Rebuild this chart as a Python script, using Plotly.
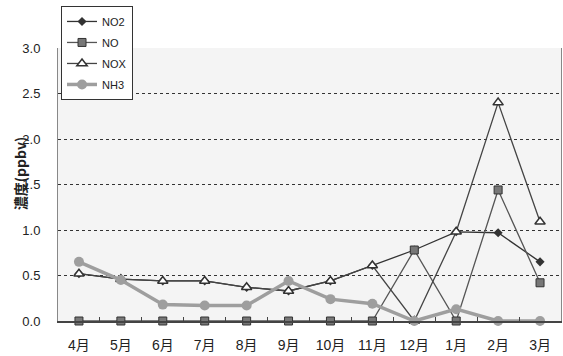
import plotly.graph_objects as go

months = ["4月", "5月", "6月", "7月", "8月", "9月", "10月", "11月", "12月", "1月", "2月", "3月"]
no2 = [0.52, 0.46, 0.44, 0.44, 0.37, 0.33, 0.44, 0.61, 0.78, 0.98, 0.97, 0.65]
no = [0.0, 0.0, 0.0, 0.0, 0.0, 0.0, 0.0, 0.0, 0.78, 0.0, 1.44, 0.42]
nox = [0.52, 0.46, 0.44, 0.44, 0.37, 0.33, 0.44, 0.61, 0.0, 0.98, 2.40, 1.09]
nh3 = [0.65, 0.45, 0.18, 0.17, 0.17, 0.44, 0.24, 0.19, 0.0, 0.13, 0.0, 0.0]
y_ticks = [0.0, 0.5, 1.0, 1.5, 2.0, 2.5, 3.0]

FONT = "Liberation Sans, Arial, Noto Sans CJK JP"

fig = go.Figure()
fig.add_trace(go.Scatter(
    x=months, y=no2, name="NO2", mode="lines+markers", legendgroup="a",
    line=dict(color="#333333", width=1.3),
    marker=dict(symbol="diamond", size=7, color="#333333"),
    cliponaxis=False))
fig.add_trace(go.Scatter(
    x=months, y=no, name="NO", mode="lines+markers", legendgroup="b",
    line=dict(color="#555555", width=1.3),
    marker=dict(symbol="square", size=8, color="#777777",
                line=dict(color="#333333", width=1)),
    cliponaxis=False))
fig.add_trace(go.Scatter(
    x=months, y=nox, name="NOX", mode="lines+markers", legendgroup="c",
    line=dict(color="#444444", width=1.3),
    marker=dict(symbol="triangle-up", size=9, color="white",
                line=dict(color="#333333", width=1.5)),
    cliponaxis=False))
fig.add_trace(go.Scatter(
    x=months, y=nh3, name="NH3", mode="lines+markers", legendgroup="d",
    line=dict(color="#9e9e9e", width=3.5),
    marker=dict(symbol="circle", size=10, color="#9e9e9e"),
    cliponaxis=False))

fig.update_layout(
    width=563, height=356,
    margin=dict(l=58, r=2, t=48, b=35, autoexpand=False),
    paper_bgcolor="white",
    plot_bgcolor="#f4f4f4",
    font=dict(family=FONT, size=13, color="#222222"),
    showlegend=True,
    legend=dict(
        x=0.006, y=1.154, xanchor="left", yanchor="top",
        bgcolor="white", bordercolor="#333333", borderwidth=1,
        font=dict(family=FONT, size=11, color="#222222"),
        itemwidth=30, tracegroupgap=2, traceorder="grouped",
    ),
    xaxis=dict(
        type="category", range=[-0.5, len(months) - 0.5],
        tickson="boundaries", ticks="inside", ticklen=4,
        tickcolor="#444444", showline=True, linecolor="#444444", linewidth=1.5,
        showgrid=False, mirror=False, automargin=False,
        ticklabelstandoff=10,
        tickfont=dict(family=FONT, size=14),
    ),
    yaxis=dict(
        range=[0, 3], tickvals=y_ticks, ticktext=[f"{v:.1f}" for v in y_ticks],
        showline=True, linecolor="#888888", linewidth=1, mirror=True,
        showgrid=True, gridcolor="#333333", gridwidth=1, griddash="dot",
        zeroline=False, ticks="", ticklabelstandoff=14, automargin=False,
        tickfont=dict(family=FONT, size=13),
    ),
    annotations=[dict(
        text="<b>濃度(ppbv)</b>", textangle=-90, xref="paper", yref="paper",
        x=-0.076, y=0.54, xanchor="center", yanchor="middle", showarrow=False,
        font=dict(family="Noto Sans CJK JP", size=14, color="#222222"),
    )],
)

fig.write_html("out.html")
